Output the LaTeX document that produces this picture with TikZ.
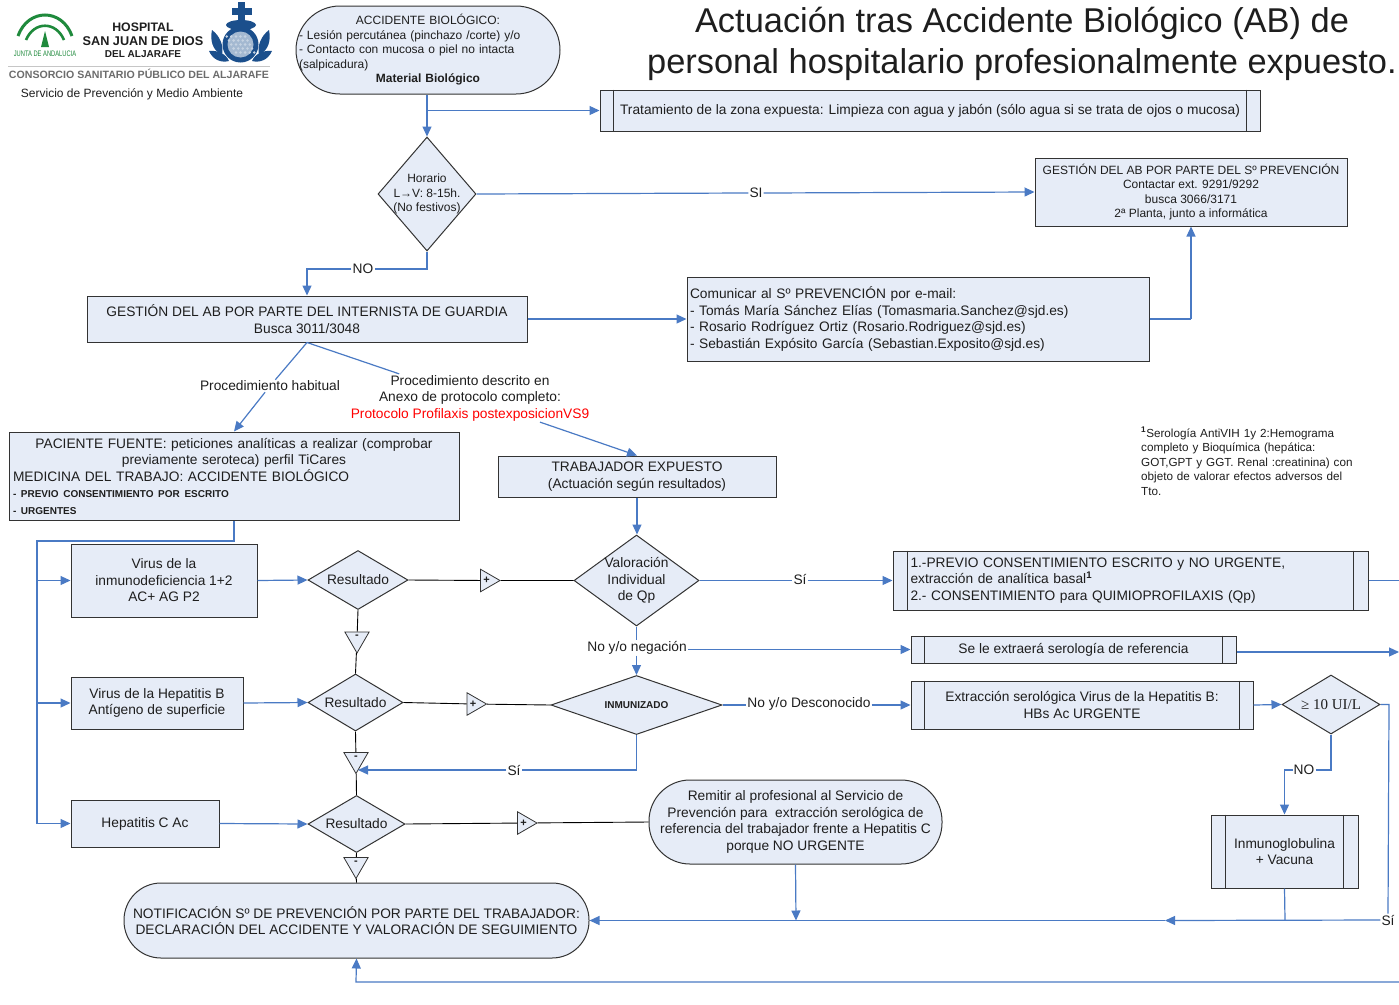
\documentclass[tikz,border=0pt]{standalone}
\usepackage{fontspec}
\setmainfont{Liberation Sans}
\newfontfamily\serifhead{Liberation Serif}
\usetikzlibrary{arrows.meta,shapes.geometric,calc}
\definecolor{fillb}{HTML}{E6ECF7}
\definecolor{linkb}{HTML}{4A7AC4}
\definecolor{edge}{HTML}{333333}
\definecolor{txt}{HTML}{1E1E1E}
\definecolor{navy}{HTML}{1B4F8C}
\definecolor{junta}{HTML}{1F8A3C}
\newcommand\fs[2]{\fontsize{#1}{#2}\selectfont}
\newcommand\boxn[7][]{\node[nodebox,minimum width={(#5-#3)*1pt},minimum height={(#6-#4)*1pt},#1] (#2) at ({(#3+#5)/2},{(#4+#6)/2}) {#7};}
\newcommand\bars[2]{\draw[edge,line width=1pt] ([xshift=#2pt]#1.north west) -- ([xshift=#2pt]#1.south west) ([xshift=-#2pt]#1.north east) -- ([xshift=-#2pt]#1.south east);}
\newcommand\ctr[2]{\makebox[#1pt][c]{#2}}
\tikzset{
 nodebox/.style={draw=edge,fill=fillb,line width=1pt,inner sep=0pt,text=txt,align=center,font=\fs{13.75}{16.5}},
 decide/.style={draw=edge,fill=fillb,line width=1pt,inner sep=0pt,text=txt,font=\fs{13.75}{16.5},diamond},
 tplus/.style={draw=edge,fill=fillb,line width=.8pt,regular polygon,regular polygon sides=3,minimum size=26pt,inner sep=0pt,shape border rotate=-90,label={[font=\bfseries\fs{11}{12},text=txt,xshift=-.5pt]center:+}},
 tminus/.style={draw=edge,fill=fillb,line width=.8pt,regular polygon,regular polygon sides=3,minimum size=28pt,inner sep=0pt,shape border rotate=180,label={[font=\bfseries\fs{11}{12},text=txt,yshift=2pt]center:-}},
 plainlab/.style={inner sep=1pt,text=txt,font=\fs{13.75}{16.5},align=center},
 lab/.style={plainlab,fill=white},
 flow/.style={draw=linkb,line width=1.2pt},
 arr/.style={flow,-{Triangle[length=10pt,width=9pt]}},
 blk/.style={draw=black,line width=.9pt},
}
\begin{document}
\begin{tikzpicture}[x=1pt,y=-1pt]
\useasboundingbox (0,0) rectangle (1399,1004);
\fill[white] (0,0) rectangle (1399,1004);

% ---- logo
\draw[junta,line width=3pt] (18,36) .. controls (28,8) and (62,8) .. (72,36);
\draw[junta,line width=2.6pt] (26,40) .. controls (34,21) and (56,21) .. (64,40);
\fill[junta] (45,31) -- (49,47) -- (41,47) -- cycle;
\node[text=junta,font=\fs{8}{9},inner sep=0pt] (jlogo) at (45,54) {\scalebox{.72}[1]{JUNTA DE ANDALUCIA}};
\node[text=txt,font=\bfseries\fs{12.3}{14},inner sep=0pt] (hlogo1) at (143,27) {HOSPITAL};
\node[text=txt,font=\bfseries\fs{12.7}{14},inner sep=0pt] (hlogo2) at (143,41) {SAN JUAN DE DIOS};
\node[text=txt,font=\bfseries\fs{10}{12},inner sep=0pt] (hlogo3) at (143,54) {DEL ALJARAFE};
\draw[gray!45,line width=1pt] (8,66) -- (270,66);
\node[text=gray!85!black,font=\bfseries\fs{10.6}{12},inner sep=0pt] (clogo) at (139,74) {CONSORCIO SANITARIO PÚBLICO DEL ALJARAFE};
\node[text=txt,font=\fs{12}{13},inner sep=0pt] (slogo) at (132,94) {Servicio de Prevención y Medio Ambiente};
% emblem
\fill[navy] (238,2) rectangle (245,22);
\fill[navy] (232,8) rectangle (252,15);
\fill[navy] (241,25) ellipse (15 and 5);
\fill[navy] (240.5,44.5) circle (18);
\fill[navy!40!white] (240.5,44.5) circle (13);
\foreach \i in {-2,...,2}{\foreach \j in {-2,...,2}{\fill[white!75!navy] ($(240.5,44.5)+(\i*4.6+\j*2.3,\j*4)$) circle (1.4);}}
\begin{scope}
\fill[navy] (222,55) .. controls (212,50) and (210,40) .. (212,30) .. controls (220,36) and (224,46) .. (222,55) -- cycle;
\fill[navy] (259,55) .. controls (269,50) and (271,40) .. (269,30) .. controls (261,36) and (257,46) .. (259,55) -- cycle;
\fill[navy] (229,61) .. controls (221,63) and (213,60) .. (209,51) .. controls (218,50) and (226,54) .. (229,61) -- cycle;
\fill[navy] (252,61) .. controls (260,63) and (268,60) .. (272,51) .. controls (263,50) and (255,54) .. (252,61) -- cycle;
\end{scope}

% ---- title
\node[text=txt,font=\fs{34.4}{36},inner sep=0pt] (title1) at (1022,23.5) {Actuación tras Accidente Biológico (AB) de};
\node[text=txt,font=\fs{34.4}{36},inner sep=0pt] (title2) at (1022,64.5) {personal hospitalario profesionalmente expuesto.};

% ---- nodes top
\boxn[rounded corners=44pt,text width=258pt,align=left,font=\fs{12}{14.5}]{acc}{296}{6}{560}{94}{\ctr{258}{ACCIDENTE BIOLÓGICO:}\\- Lesión percutánea (pinchazo /corte) y/o\\- Contacto con mucosa o piel no intacta\\(salpicadura)\\\ctr{258}{\textbf{Material Biológico}}}
\boxn{trat}{600}{90}{1260}{131}{Tratamiento de la zona expuesta: Limpieza con agua y jabón (sólo agua si se trata de ojos o mucosa)}
\bars{trat}{14}
\node[decide,aspect=.86,minimum width=98pt,minimum height=114pt,label={[align=center,font=\fs{12}{14.5},text=txt]center:Horario\\L→V: 8-15h.\\(No festivos)}] (hor) at (427,194) {};
\boxn[font=\fs{12}{14.5}]{prev}{1035}{158}{1347}{226}{GESTIÓN DEL AB POR PARTE DEL Sº PREVENCIÓN\\Contactar ext. 9291/9292\\busca 3066/3171\\2ª Planta, junto a informática}
\boxn{intern}{87}{296}{527}{342}{GESTIÓN DEL AB POR PARTE DEL INTERNISTA DE GUARDIA\\Busca 3011/3048}
\boxn[text width=456pt,align=left]{comun}{687}{277}{1149}{361}{Comunicar al Sº PREVENCIÓN por e-mail:\\- Tomás María Sánchez Elías (Tomasmaria.Sanchez@sjd.es)\\- Rosario Rodríguez Ortiz (Rosario.Rodriguez@sjd.es)\\- Sebastián Expósito García (Sebastian.Exposito@sjd.es)}
\node[lab] (habit) at (270,386) {Procedimiento habitual};
\node[lab] (descr) at (470,398) {Procedimiento descrito en\\Anexo de protocolo completo:\\\textcolor{red}{Protocolo Profilaxis postexposicionVS9}};
\boxn[text width=442pt,align=left]{pac}{9}{432}{459}{520}{\ctr{442}{PACIENTE FUENTE: peticiones analíticas a realizar (comprobar}\\\ctr{442}{previamente seroteca) perfil TiCares}\\MEDICINA DEL TRABAJO: ACCIDENTE BIOLÓGICO\\{\fs{10}{15}\textbf{- PREVIO CONSENTIMIENTO POR ESCRITO}}\\{\fs{10}{15}\textbf{- URGENTES}}}
\boxn{trab}{498}{456}{776}{497}{TRABAJADOR EXPUESTO\\(Actuación según resultados)}
\node[text=txt,text width=225pt,align=left,font=\fs{11.7}{14.6},inner sep=0pt,anchor=north west] (foot) at (1141,427) {\textsuperscript{\textbf{1}}Serología AntiVIH 1y 2:Hemograma\\completo y Bioquímica (hepática:\\GOT,GPT y GGT. Renal :creatinina) con\\objeto de valorar efectos adversos del\\Tto.};

% ---- middle left
\boxn{v1}{71}{544}{257}{617}{Virus de la\\inmunodeficiencia 1+2\\AC+ AG P2}
\boxn{v2}{71}{677}{243}{729}{Virus de la Hepatitis B\\Antígeno de superficie}
\boxn{v3}{71}{800}{219}{847}{Hepatitis C Ac}
\node[decide,aspect=1.67,minimum width=100pt,minimum height=59pt,label={[font=\fs{13.75}{16},text=txt]center:Resultado}] (r1) at (358,580) {};
\node[decide,aspect=1.67,minimum width=95pt,minimum height=57pt,label={[font=\fs{13.75}{16},text=txt]center:Resultado}] (r2) at (355.5,702.5) {};
\node[decide,aspect=1.67,minimum width=97pt,minimum height=57pt,label={[font=\fs{13.75}{16},text=txt]center:Resultado}] (r3) at (356.5,824) {};
\node[tplus] (p1) at (487,580.5) {};
\node[tplus] (p2) at (473.5,704) {};
\node[tplus] (p3) at (524,823) {};
\node[tminus] (m1) at (357,639) {};
\node[tminus] (m2) at (356,759.5) {};
\node[tminus] (m3) at (356,864.5) {};
\node[decide,aspect=1.37,minimum width=125pt,minimum height=91pt,label={[align=center,font=\fs{13.75}{16.5},text=txt]center:Valoración\\Individual\\de Qp}] (val) at (636.5,580.5) {};
\node[decide,aspect=2.85,minimum width=171pt,minimum height=59pt,label={[font=\bfseries\fs{10}{12},text=txt]center:INMUNIZADO}] (inm) at (636.5,705) {};
\boxn[rounded corners=41pt]{rem}{649}{780}{942}{864}{Remitir al profesional al Servicio de\\Prevención para\ \ extracción serológica de\\referencia del trabajador frente a Hepatitis C\\porque NO URGENTE}
\boxn[rounded corners=37pt]{notif}{124}{883}{589}{958}{NOTIFICACIÓN Sº DE PREVENCIÓN POR PARTE DEL TRABAJADOR:\\DECLARACIÓN DEL ACCIDENTE Y VALORACIÓN DE SEGUIMIENTO}

% ---- middle right
\boxn[text width=440pt,align=left]{qp}{893}{551}{1368}{610}{1.-PREVIO CONSENTIMIENTO ESCRITO y NO URGENTE,\\extracción de analítica basal\textsuperscript{\textbf{1}}\\2.- CONSENTIMIENTO para QUIMIOPROFILAXIS (Qp)}
\bars{qp}{15}
\boxn{sero}{911}{636}{1236}{663}{Se le extraerá serología de referencia}
\bars{sero}{14}
\boxn{extr}{911}{681}{1253}{729}{Extracción serológica Virus de la Hepatitis B:\\HBs Ac URGENTE}
\bars{extr}{14}
\node[decide,aspect=1.66,minimum width=98pt,minimum height=59pt,label={[font=\serifhead\fs{15}{16},text=txt]center:≥ 10 UI/L}] (ge) at (1331,704.5) {};
\boxn{inmu}{1211}{815}{1358}{888}{Inmunoglobulina\\+ Vacuna}
\bars{inmu}{15}

% ---- connector labels
\node[plainlab,fill=white] (lsi1) at (756,193) {SI};
\node[plainlab,fill=white] (lno1) at (363,269) {NO};
\node[plainlab,fill=white] (lsi2) at (800,579) {Sí};
\node[plainlab,fill=white] (lneg) at (637,648) {No y/o negación};
\node[plainlab,fill=white] (ldes) at (809,704) {No y/o Desconocido};
\node[plainlab,fill=white] (lsi3) at (514,770) {Sí};
\node[plainlab,fill=white] (lno2) at (1304,770) {NO};
\node[plainlab,fill=white] (lsi4) at (1388,920) {Sí};

% ---- free ends
\coordinate (brTrat) at (427,110.5);
\coordinate (elbowNo) at (427,269);
\coordinate (elbowCom) at (1191,319);
\coordinate (paca) at (234,541);
\coordinate (pacb) at (37,541);
\coordinate (leftB1) at (37,580.5);
\coordinate (leftB2) at (37,703);
\coordinate (leftB3) at (37,823.5);
\coordinate (offQp) at (1399,580.5);
\coordinate (offSero) at (1399,652);
\coordinate (geR) at (1389,704.5);
\coordinate (midArr) at (1165,920.5);
\coordinate (remJ) at (796,920.5);
\coordinate (inmuJ) at (1285,920.5);
\coordinate (offBot) at (1399,982);
\coordinate (botL) at (356,982);
\coordinate (inmR) at (636.5,770);
\coordinate (m2in) at (358,770);

% ---- connectors
\draw[arr] (hor.north |- acc.south) -- (hor.north);
\draw[arr] (brTrat) -- (brTrat -| trat.west);
\draw[flow] (hor.east) -- (lsi1.west);
\draw[arr] (lsi1.east) -- (prev.west);
\draw[flow] (hor.south) -- (elbowNo) -- (lno1.east);
\draw[arr] (lno1.west) -| (intern.north);
\draw[arr] (intern.east) -- (intern.east -| comun.west);
\draw[flow] (comun.east |- elbowCom) -- (elbowCom);
\draw[arr] (elbowCom) -- (prev.south -| elbowCom);
\draw[flow] (intern.south) -- (habit);
\draw[arr] (habit) -- (pac.north);
\draw[flow] (intern.south) -- (descr);
\draw[arr] (descr) -- (trab.north);
\draw[arr] (trab.south) -- (val.north -| trab.south);
\draw[flow] (pac.south) -- (paca) -- (pacb) -- (leftB3);
\draw[arr] (leftB1) -- (v1.west);
\draw[arr] (leftB2) -- (leftB2 -| v2.west);
\draw[arr] (leftB3) -- (v3.west);
\draw[arr] (v1.east) -- (r1.west);
\draw[arr] (v2.east) -- (r2.west);
\draw[arr] (v3.east) -- (r3.west);
\draw[blk] (r1.east) -- (p1) (p1) -- (val.west);
\draw[blk] (r2.east) -- (p2) (p2) -- (inm.west);
\draw[blk] (r3.east) -- (p3) (p3) -- (rem.west);
\draw[blk] (r1.south) -- (m1) (m1) -- (r2.north);
\draw[blk] (r2.south) -- (m2) (m2) -- (r3.north);
\draw[blk] (r3.south) -- (m3) (m3) -- (notif.north);
\draw[flow] (val.east) -- (val.east -| lsi2.west);
\draw[arr] (lsi2.east |- qp.west) -- (qp.west);
\draw[flow] (qp.east) -- (offQp);
\draw[flow] (val.south) -- (lneg.north -| val.south);
\draw[arr] (lneg.south -| inm.north) -- (inm.north);
\draw[arr] (lneg.east |- sero.west) -- (sero.west);
\draw[arr] (sero.east |- offSero) -- (offSero);
\draw[flow] (inm.east) -- (inm.east -| ldes.west);
\draw[arr] (ldes.east |- extr.west) -- (extr.west);
\draw[arr] (extr.east) -- (ge.west);
\draw[flow] (inm.south) -- (inmR) -- (lsi3.east |- inmR);
\draw[arr] (lsi3.west |- m2in) -- (m2in);
\draw[flow] (ge.south) |- (lno2.east);
\draw[arr] (lno2.west) -| (inmu.north);
\draw[flow] (ge.east) -- (geR) -- (lsi4.north);
\draw[arr] (lsi4.west) -- (midArr);
\draw[arr] (midArr) -- (notif.east);
\draw[flow] (inmu.south) -- (inmuJ);
\draw[arr] (rem.south) -- (remJ);
\draw[arr] (offBot) -- (botL) -- (notif.south);
\end{tikzpicture}
\end{document}
